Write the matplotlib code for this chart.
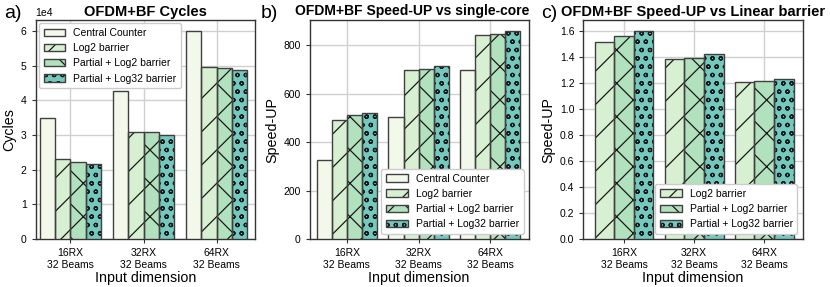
import numpy as np
import matplotlib.pyplot as plt
from matplotlib.ticker import MultipleLocator, FormatStrFormatter

plt.rcParams['font.family'] = ['Liberation Sans', 'DejaVu Sans']
plt.rcParams['hatch.linewidth'] = 0.9

groups = ['16RX\n32 Beams', '32RX\n32 Beams', '64RX\n32 Beams']
series = ['Central Counter', 'Log2 barrier', 'Partial + Log2 barrier', 'Partial + Log32 barrier']
colors = ['#f3f9ea', '#d8f0d2', '#b2e1bd', '#74c9be']
hatches = ['', '/', 'x', 'oo']

# cycles
cycles_central = [3.50e4, 4.27e4, 6.02e4]
cycles_log2 = [2.30e4, 3.08e4, 4.97e4]
cycles_plog2 = [2.23e4, 3.08e4, 4.95e4]
cycles_plog32 = [2.18e4, 3.00e4, 4.88e4]

# speed-up vs single core
su_central = [325, 505, 698]
su_log2 = [493, 698, 840]
su_plog2 = [510, 700, 846]
su_plog32 = [520, 715, 860]

# speed-up vs linear barrier
lin_log2 = [1.515, 1.385, 1.205]
lin_plog2 = [1.565, 1.39, 1.215]
lin_plog32 = [1.605, 1.425, 1.235]

EDGE = '#404040'
FS_TICK = 7.5
FS_LAB = 10.3


def grouped(ax, data, idx, xlim, legend_kw):
    n = len(data)
    w = 0.84 / n
    x = np.arange(len(groups))
    handles = []
    for k, (vals, i) in enumerate(zip(data, idx)):
        pos = x + (k - (n - 1) / 2) * w
        # hatch drawn in black, outline drawn separately in grey
        b1 = ax.bar(pos, vals, w, color=colors[i], hatch=hatches[i],
                    edgecolor='#1a1a1a', linewidth=0, zorder=3)
        b2 = ax.bar(pos, vals, w, fill=False, edgecolor=EDGE, linewidth=1.0, zorder=4)
        handles.append((b1.patches[0], b2.patches[0]))
    ax.set_xticks(x)
    ax.set_xticklabels(groups, fontsize=FS_TICK)
    ax.set_xlim(*xlim)
    ax.tick_params(axis='y', labelsize=FS_TICK, length=3, color='#333333')
    ax.tick_params(axis='x', length=3, color='#333333')
    ax.grid(True, color='#d0d0d0', linewidth=1.0, zorder=0)
    ax.set_axisbelow(True)
    for s in ax.spines.values():
        s.set_color('#333333')
        s.set_linewidth(1.0)
    ax.set_xlabel('Input dimension', fontsize=FS_LAB, labelpad=1)
    ax.legend(handles, [series[i] for i in idx], fontsize=FS_TICK, handlelength=2.1,
              handletextpad=0.75, borderpad=0.45, labelspacing=0.5,
              framealpha=1.0, **legend_kw)


fig, axs = plt.subplots(1, 3, figsize=(8.3, 2.87), dpi=100)
plt.subplots_adjust(left=0.043, right=0.967, top=0.93, bottom=0.167, wspace=0.25)

ax = axs[0]
grouped(ax, [cycles_central, cycles_log2, cycles_plog2, cycles_plog32], [0, 1, 2, 3],
        (-0.474, 2.52), dict(loc='upper left', borderaxespad=0.3))
ax.set_ylabel('Cycles', fontsize=FS_LAB, labelpad=3)
ax.set_title('OFDM+BF Cycles', fontsize=10.5, fontweight='bold', pad=3)
ax.ticklabel_format(axis='y', style='sci', scilimits=(4, 4))
ax.yaxis.get_offset_text().set_fontsize(FS_TICK)
ax.yaxis.set_major_locator(MultipleLocator(1e4))

ax = axs[1]
grouped(ax, [su_central, su_log2, su_plog2, su_plog32], [0, 1, 2, 3],
        (-0.52, 2.535), dict(loc='lower right'))
ax.set_ylabel('Speed-UP', fontsize=FS_LAB, labelpad=3)
ax.set_title('OFDM+BF Speed-UP vs single-core', fontsize=10, fontweight='bold', pad=3.5, x=0.47)
ax.yaxis.set_major_locator(MultipleLocator(200))

ax = axs[2]
grouped(ax, [lin_log2, lin_plog2, lin_plog32], [1, 2, 3],
        (-0.58, 2.55), dict(loc='lower right'))
ax.set_ylabel('Speed-UP', fontsize=FS_LAB, labelpad=3)
ax.set_title('OFDM+BF Speed-UP vs Linear barrier', fontsize=10.5, fontweight='bold', pad=3)
ax.yaxis.set_major_locator(MultipleLocator(0.2))
ax.yaxis.set_major_formatter(FormatStrFormatter('%.1f'))

for xp, lab in zip([4, 261, 541], ['a)', 'b)', 'c)']):
    fig.text(xp / 830, 1 - 18 / 287, lab, fontsize=14, va='baseline', ha='left')

fig.savefig('out.png', dpi=100)
